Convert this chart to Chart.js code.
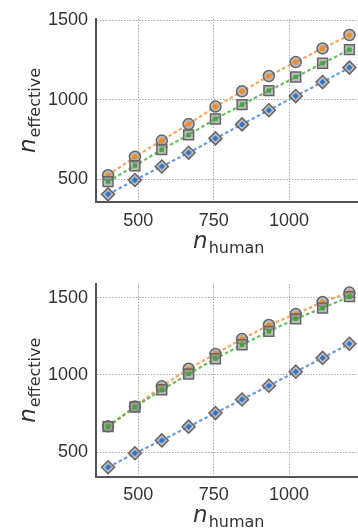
<!DOCTYPE html>
<html>
<head>
<meta charset="utf-8">
<script src="https://cdn.jsdelivr.net/npm/chart.js@4.4.1/dist/chart.umd.min.js"></script>
<style>
  html, body { margin: 0; padding: 0; background: #fff; overflow: hidden; }
  .panel { position: relative; width: 370px; }
</style>
</head>
<body>
<div class="panel" style="height:265px"><canvas id="topChart"></canvas></div>
<div class="panel" style="height:266px"><canvas id="bottomChart"></canvas></div>
<script>
// n_human values (x axis)
const nHuman = [400, 489, 578, 667, 756, 844, 933, 1022, 1111, 1200];

// top panel
const topBlue   = [404, 494, 579, 666, 756, 844, 933, 1022, 1110, 1201];
const topGreen  = [484, 584, 686, 778, 878, 968, 1056, 1142, 1228, 1314];
const topOrange = [524, 640, 742, 846, 956, 1052, 1148, 1236, 1322, 1406];

// bottom panel
const botBlue   = [402, 493, 576, 665, 753, 841, 930, 1021, 1110, 1202];
const botGreen  = [665, 792, 904, 1006, 1105, 1195, 1282, 1363, 1433, 1507];
const botOrange = [667, 795, 926, 1040, 1136, 1232, 1323, 1394, 1472, 1533];

const xTicks = [500, 750, 1000];
const yTicks = [500, 1000, 1500];

const tickFont = { family: '"Liberation Sans", Arial, sans-serif', size: 18 };
const textColor = '#333';

// n with a subscript, drawn like matplotlib mathtext
const axisTitles = {
  id: 'axisTitles',
  afterDraw(chart, args, opts) {
    const { ctx, chartArea: a } = chart;
    const mainFont = 'italic 23px "DejaVu Sans"';
    const subFont = '16px "DejaVu Sans"';
    const draw = (subText, cx, baseY) => {
      ctx.font = mainFont;
      const w1 = ctx.measureText('n').width;
      ctx.font = subFont;
      const w2 = ctx.measureText(subText).width;
      const x0 = cx - (w1 + w2 + 1) / 2;
      ctx.font = mainFont;
      ctx.fillText('n', x0, baseY);
      ctx.font = subFont;
      ctx.fillText(subText, x0 + w1 + 1, baseY + 5);
    };
    ctx.save();
    ctx.fillStyle = textColor;
    ctx.textBaseline = 'alphabetic';
    ctx.textAlign = 'left';
    draw(opts.x, (a.left + a.right) / 2, a.bottom + 45.5);
    ctx.translate(35, (a.top + a.bottom) / 2);
    ctx.rotate(-Math.PI / 2);
    draw(opts.y, 0, 0);
    ctx.restore();
  }
};

function series(data, color, lineColor, shape, outerR, innerR, order) {
  const pts = nHuman.map((x, i) => ({ x: x, y: data[i] }));
  return [
    {
      data: pts,
      borderColor: lineColor,
      borderWidth: 2.2,
      borderDash: [3.5, 2.5],
      pointStyle: shape,
      pointRadius: outerR,
      pointBackgroundColor: 'rgba(140,140,140,0.6)',
      pointBorderColor: '#666',
      pointBorderWidth: 1.5,
      fill: false,
      order: order + 1
    },
    {
      data: pts,
      showLine: false,
      pointStyle: shape,
      pointRadius: innerR,
      pointBackgroundColor: color,
      pointBorderWidth: 0,
      order: order
    }
  ];
}

function makeChart(id, blue, green, orange, yMin, yMax, padTop, xHeight) {
  return new Chart(document.getElementById(id), {
    type: 'line',
    data: {
      datasets: [
        ...series(green, '#3aa83a', 'rgba(80,180,70,0.85)', 'rect', 7, 3, 1),
        ...series(orange, '#f28a26', 'rgba(245,150,70,0.85)', 'circle', 5.5, 2.6, 3),
        ...series(blue, '#2f72d2', 'rgba(70,130,215,0.8)', 'rectRot', 6.5, 3, 5)
      ]
    },
    options: {
      responsive: true,
      maintainAspectRatio: false,
      animation: false,
      layout: { padding: { top: padTop, right: 2, bottom: 0, left: 0 } },
      plugins: {
        legend: { display: false },
        tooltip: { enabled: false },
        axisTitles: { x: 'human', y: 'effective' }
      },
      scales: {
        x: {
          type: 'linear',
          min: 360,
          max: 1240,
          afterBuildTicks: s => { s.ticks = xTicks.map(v => ({ value: v })); },
          afterFit: s => { s.height = xHeight; },
          ticks: { font: tickFont, color: textColor, padding: 8, callback: v => String(v) },
          grid: { color: '#a8a8a8', lineWidth: 1, drawTicks: false },
          border: { display: true, color: '#555', width: 2, dash: [1.5, 1.5] }
        },
        y: {
          type: 'linear',
          min: yMin,
          max: yMax,
          afterBuildTicks: s => { s.ticks = yTicks.map(v => ({ value: v })); },
          afterFit: s => { s.width = 96; },
          ticks: { font: tickFont, color: textColor, padding: 8, callback: v => String(v) },
          grid: { color: '#a8a8a8', lineWidth: 1, drawTicks: false },
          border: { display: true, color: '#555', width: 2, dash: [1.5, 1.5] }
        }
      }
    },
    plugins: [axisTitles]
  });
}

makeChart('topChart', topBlue, topGreen, topOrange, 354, 1508, 11, 62.7);
makeChart('bottomChart', botBlue, botGreen, botOrange, 341, 1590, 12.7, 54.3);
</script>
</body>
</html>
